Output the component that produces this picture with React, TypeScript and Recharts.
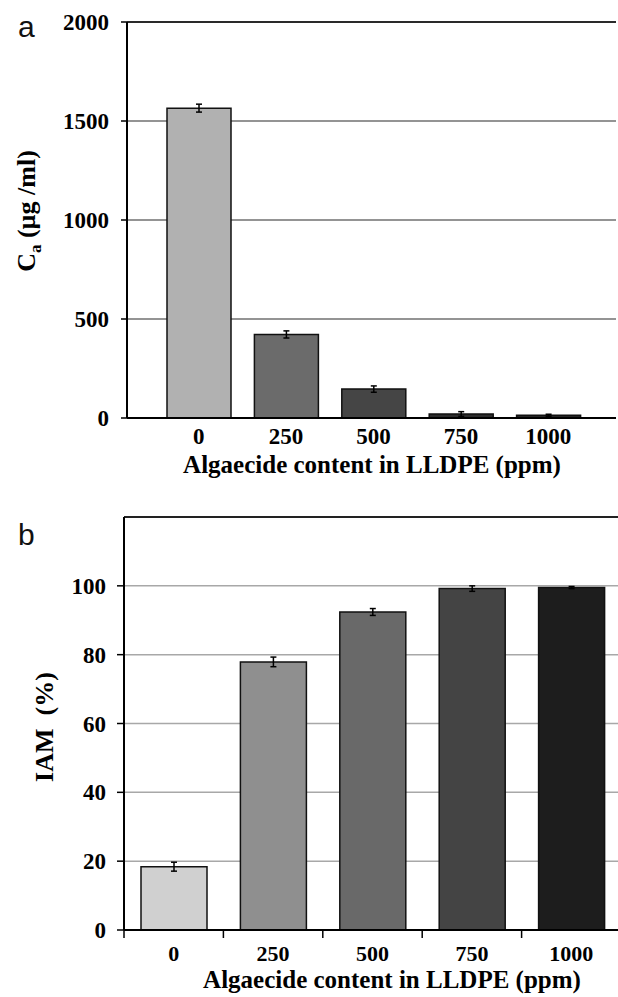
import React from 'react';
import { BarChart, Bar, XAxis, YAxis, CartesianGrid, ErrorBar, Cell, ReferenceLine } from 'recharts';

const ppmLabels = ['0', '250', '500', '750', '1000'];
const caValues = [1565, 422, 146, 20, 14];
const caErrors = [20, 18, 16, 12, 5];
const iamValues = [18.4, 77.9, 92.4, 99.2, 99.5];
const iamErrors = [1.3, 1.4, 1.0, 0.8, 0.3];
const colorsA = ['#b1b1b1', '#6b6b6b', '#454545', '#2c2c2c', '#252525'];
const colorsB = ['#d0d0d0', '#8f8f8f', '#696969', '#444444', '#1d1d1d'];
const ticksA = [0, 500, 1000, 1500, 2000];
const ticksB = [0, 20, 40, 60, 80, 100];

const dataA = ppmLabels.map((p, i) => ({ ppm: p, ca: caValues[i], err: caErrors[i] }));
const dataB = ppmLabels.map((p, i) => ({ ppm: p, iam: iamValues[i], err: iamErrors[i] }));

const SERIF = "'Liberation Serif', 'Times New Roman', Tinos, serif";
const SANS = "'Liberation Sans', Arial, sans-serif";
const tickStyle = { fontSize: 23, fontWeight: 700, fill: '#000', fontFamily: SERIF };

const B_WIDTH = 624;
const B_LEFT = 124;
const B_RIGHT = 3;
const HALF_BAND_B = (B_WIDTH - B_LEFT - B_RIGHT) / ppmLabels.length / 2;

const BTick = (props: any) => {
  const { x, y, payload, index } = props;
  const last = index === ppmLabels.length - 1;
  return (
    <g>
      <line x1={x - HALF_BAND_B} x2={x - HALF_BAND_B} y1={y} y2={y + 8} stroke="#000" strokeWidth={1.5} />
      {last && <line x1={x + HALF_BAND_B} x2={x + HALF_BAND_B} y1={y} y2={y + 8} stroke="#000" strokeWidth={1.5} />}
      <text x={x} y={y + 31} textAnchor="middle" fontFamily={SERIF} fontSize={22} fontWeight={700} fill="#000">{payload.value}</text>
    </g>
  );
};

export default function App() {
  return (
    <div style={{ position: 'absolute', left: 0, top: 0, width: 618, height: 997, overflow: 'hidden', background: '#fff', fontFamily: SERIF }}>
      <div style={{ position: 'absolute', left: 0, top: 0 }}>
        <BarChart width={618} height={490} data={dataA} margin={{ top: 22, right: 2, left: 0, bottom: 12 }}>
          <CartesianGrid vertical={false} stroke="#707070" strokeWidth={1.5} />
          <XAxis dataKey="ppm" type="category" interval={0} padding={{ left: 28, right: 24 }} tickLine={false}
            axisLine={{ stroke: '#000', strokeWidth: 2 }} tick={tickStyle} tickMargin={4} height={60} />
          <YAxis width={127} domain={[0, 2000]} ticks={ticksA} interval={0} tickSize={6} tickMargin={12}
            axisLine={{ stroke: '#000', strokeWidth: 2 }} tickLine={{ stroke: '#000', strokeWidth: 1.5 }} tick={tickStyle} />
          <ReferenceLine y={2000} stroke="#2a2a2a" strokeWidth={2} />
          <Bar dataKey="ca" barSize={64} stroke="#111" strokeWidth={1.5} isAnimationActive={false}>
            {dataA.map((d, i) => <Cell key={d.ppm} fill={colorsA[i]} />)}
            <ErrorBar dataKey="err" width={3} stroke="#000" strokeWidth={1.5} direction="y" />
          </Bar>
        </BarChart>
      </div>
      <div style={{ position: 'absolute', left: 0, top: 490 }}>
        <BarChart width={B_WIDTH} height={507} data={dataB} margin={{ top: 27, right: B_RIGHT, left: 0, bottom: 0 }}>
          <CartesianGrid vertical={false} stroke="#a8a8a8" strokeWidth={1.5} />
          <XAxis dataKey="ppm" type="category" interval={0} tickLine={false} tickSize={0} tickMargin={0}
            axisLine={{ stroke: '#000', strokeWidth: 2 }} tick={<BTick />} height={67} />
          <YAxis width={B_LEFT} domain={[0, 120]} ticks={ticksB} interval={0} tickSize={7} tickMargin={11}
            axisLine={{ stroke: '#000', strokeWidth: 2 }} tickLine={{ stroke: '#000', strokeWidth: 1.5 }} tick={tickStyle} />
          <ReferenceLine y={120} stroke="#222" strokeWidth={2} />
          <Bar dataKey="iam" barSize={66} stroke="#111" strokeWidth={1.5} isAnimationActive={false}>
            {dataB.map((d, i) => <Cell key={d.ppm} fill={colorsB[i]} />)}
            <ErrorBar dataKey="err" width={3} stroke="#000" strokeWidth={1.5} direction="y" />
          </Bar>
        </BarChart>
      </div>
      <svg width={618} height={997} style={{ position: 'absolute', left: 0, top: 0, pointerEvents: 'none' }}>
        <text x={18} y={37} fontFamily={SANS} fontSize={30} fill="#111">a</text>
        <text x={18} y={545} fontFamily={SANS} fontSize={30} fill="#111">b</text>
        <text x={35} y={211} transform="rotate(-90, 35, 211)" textAnchor="middle" fontFamily={SERIF} fontSize={26} fontWeight={700} fill="#000">
          <tspan>C</tspan><tspan dy={6} fontSize={17}>a</tspan><tspan dy={-6}>{' (µg /ml)'}</tspan>
        </text>
        <text x={53} y={727} transform="rotate(-90, 53, 727)" textAnchor="middle" fontFamily={SERIF} fontSize={26} fontWeight={700} fill="#000" style={{ whiteSpace: 'pre' }}>
          {'IAM  (%)'}
        </text>
        <text x={372} y={473} textAnchor="middle" fontFamily={SERIF} fontSize={25} fontWeight={700} fill="#000">Algaecide content in LLDPE (ppm)</text>
        <text x={392} y={988} textAnchor="middle" fontFamily={SERIF} fontSize={25} fontWeight={700} fill="#000">Algaecide content in LLDPE (ppm)</text>
      </svg>
    </div>
  );
}
